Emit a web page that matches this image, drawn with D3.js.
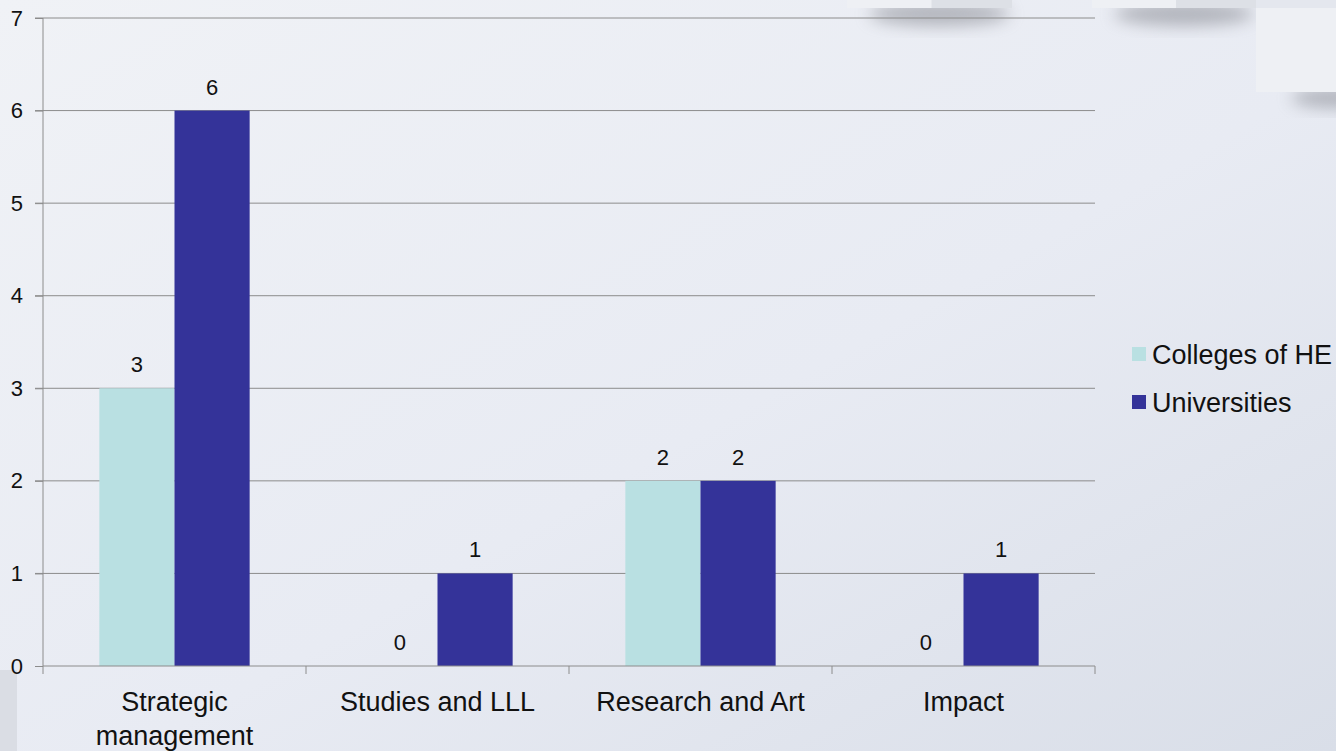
<!DOCTYPE html>
<html>
<head>
<meta charset="utf-8">
<script src="https://cdn.jsdelivr.net/npm/d3@7"></script>
<style>
  html, body { margin: 0; padding: 0; overflow: hidden; }
  svg { display: block; font-family: "Liberation Sans", Arial, sans-serif; }
</style>
</head>
<body>
<div class="chart"></div>
<script>
// data
var categories = ['Strategic management', 'Studies and LLL', 'Research and Art', 'Impact'];
var seriesNames = ['Colleges of HE', 'Universities'];
var colleges = [3, 0, 2, 0];
var universities = [6, 1, 2, 1];
var yTicks = [0, 1, 2, 3, 4, 5, 6, 7];
var colors = ['#b9e0e2', '#343399'];

var W = 1336, H = 751;
var margin = { top: 18, right: 241, bottom: 85, left: 43 },
    width  = W - margin.left - margin.right,
    height = H - margin.top - margin.bottom;

var svg = d3.select('.chart').append('svg')
    .attr('width', W)
    .attr('height', H);

// background
var defs = svg.append('defs');
var bg = defs.append('linearGradient').attr('id', 'bg')
    .attr('x1', '0').attr('y1', '0').attr('x2', '1').attr('y2', '1');
bg.append('stop').attr('offset', '0%').attr('stop-color', '#f0f2f6');
bg.append('stop').attr('offset', '55%').attr('stop-color', '#e8ebf3');
bg.append('stop').attr('offset', '100%').attr('stop-color', '#d9dee8');
defs.append('filter').attr('id', 'blur')
    .attr('x', '-50%').attr('y', '-50%').attr('width', '200%').attr('height', '200%')
    .append('feGaussianBlur').attr('stdDeviation', 8);

svg.append('rect').attr('width', W).attr('height', H).attr('fill', 'url(#bg)');

// decorative shapes
var deco = svg.append('g');
[[847, 1012], [1092, 1256]].forEach(function(d) {
  deco.append('ellipse')
      .attr('cx', (d[0] + d[1]) / 2 + 10).attr('cy', 14)
      .attr('rx', (d[1] - d[0]) / 2 - 12).attr('ry', 12)
      .attr('fill', '#7a7d85').attr('opacity', 0.5)
      .attr('filter', 'url(#blur)');
  deco.append('rect').attr('x', d[0]).attr('y', 0)
      .attr('width', d[1] - d[0]).attr('height', 8).attr('fill', '#eef0f4');
  deco.append('rect').attr('x', (d[0] + d[1]) / 2 + 2).attr('y', 0)
      .attr('width', (d[1] - d[0]) / 2 - 2).attr('height', 8).attr('fill', '#dde0e6');
});
deco.append('ellipse').attr('cx', 1336).attr('cy', 98)
    .attr('rx', 45).attr('ry', 10)
    .attr('fill', '#7a7d85').attr('opacity', 0.5).attr('filter', 'url(#blur)');
deco.append('rect').attr('x', 1256).attr('y', 0).attr('width', 80).attr('height', 8).attr('fill', '#e4e7ee');
deco.append('rect').attr('x', 1256).attr('y', 8).attr('width', 80).attr('height', 84).attr('fill', '#eef0f4');
deco.append('rect').attr('x', 0).attr('y', 670).attr('width', 17).attr('height', 81).attr('fill', '#dadde4');

var g = svg.append('g')
    .attr('transform', 'translate(' + margin.left + ',' + margin.top + ')');

var x0 = d3.scaleBand().domain(categories).range([0, width]);
var x1 = d3.scaleBand().domain(seriesNames)
    .range([0, x0.bandwidth()]).paddingOuter(0.75);
var y = d3.scaleLinear().domain([0, 7]).range([height, 0]);

// gridlines
g.append('g').selectAll('line')
    .data(yTicks.filter(function(d) { return d > 0; }))
    .enter().append('line')
    .attr('x1', -8).attr('x2', width)
    .attr('y1', function(d) { return y(d); })
    .attr('y2', function(d) { return y(d); })
    .attr('stroke', '#8c8c8c').attr('stroke-width', 1);

// bars
var rows = categories.map(function(c, i) {
  return { cat: c, vals: [colleges[i], universities[i]] };
});
var groups = g.selectAll('.grp').data(rows).enter().append('g')
    .attr('class', 'grp')
    .attr('transform', function(d) { return 'translate(' + x0(d.cat) + ',0)'; });

groups.selectAll('rect')
    .data(function(d) { return d.vals.map(function(v, i) { return { s: seriesNames[i], v: v, i: i }; }); })
    .enter().append('rect')
    .attr('x', function(d) { return x1(d.s); })
    .attr('width', x1.bandwidth())
    .attr('y', function(d) { return y(d.v); })
    .attr('height', function(d) { return height - y(d.v); })
    .attr('fill', function(d) { return colors[d.i]; });

groups.selectAll('text')
    .data(function(d) { return d.vals.map(function(v, i) { return { s: seriesNames[i], v: v }; }); })
    .enter().append('text')
    .attr('x', function(d) { return x1(d.s) + x1.bandwidth() / 2; })
    .attr('y', function(d) { return y(d.v) - 16; })
    .attr('text-anchor', 'middle')
    .attr('font-size', 22)
    .attr('fill', '#111')
    .text(function(d) { return d.v; });

// y axis
var yAxis = d3.axisLeft(y).tickValues(yTicks).tickFormat(d3.format('d'))
    .tickSize(8).tickPadding(12);
var ya = g.append('g').call(yAxis);
ya.select('.domain').attr('stroke', '#8c8c8c').attr('d', 'M0,0V' + height);
ya.selectAll('.tick line').attr('stroke', '#8c8c8c');
ya.selectAll('.tick text').attr('font-size', 22).attr('fill', '#111')
    .attr('font-family', '"Liberation Sans", Arial, sans-serif');

// x axis: ticks at category boundaries
var xa = g.append('g').attr('transform', 'translate(0,' + height + ')');
xa.append('line').attr('x1', 0).attr('x2', width).attr('stroke', '#8c8c8c');
xa.selectAll('.bt').data(categories.concat(['end'])).enter().append('line')
    .attr('x1', function(d, i) { return i * x0.step(); })
    .attr('x2', function(d, i) { return i * x0.step(); })
    .attr('y1', 0).attr('y2', 8)
    .attr('stroke', '#8c8c8c');

var catLabels = xa.selectAll('.cl').data(categories).enter().append('text')
    .attr('text-anchor', 'middle')
    .attr('font-size', 27)
    .attr('fill', '#111')
    .attr('transform', function(d) { return 'translate(' + (x0(d) + x0.bandwidth() / 2) + ',45)'; });
catLabels.each(function(d) {
  var lines = d === 'Strategic management' ? ['Strategic', 'management'] : [d];
  var t = d3.select(this);
  lines.forEach(function(l, i) {
    t.append('tspan').attr('x', 0).attr('dy', i === 0 ? 0 : 34).text(l);
  });
});

// legend
var legend = svg.append('g').attr('transform', 'translate(1132,347)');
seriesNames.forEach(function(s, i) {
  var row = legend.append('g').attr('transform', 'translate(0,' + i * 48 + ')');
  row.append('rect').attr('width', 14).attr('height', 14).attr('fill', colors[i]);
  row.append('text').attr('x', 20).attr('y', 17)
      .attr('font-size', 27).attr('fill', '#111').text(s);
});
</script>
</body>
</html>
